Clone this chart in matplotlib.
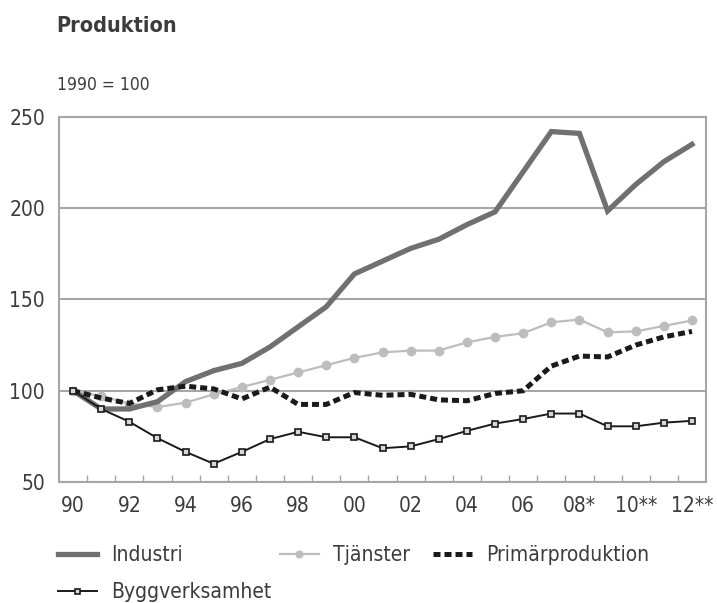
import numpy as np
import matplotlib
matplotlib.use("Agg")
import matplotlib.pyplot as plt
from matplotlib.lines import Line2D

plt.rcParams['font.family'] = ['DejaVu Sans']
plt.rcParams['font.stretch'] = 'condensed'

years = list(range(1990, 2013))
tick_labels = ["90", "92", "94", "96", "98", "00", "02", "04", "06", "08*", "10**", "12**"]

industri = [100, 90, 90, 94, 105, 111, 115, 124, 135, 146, 164, 171, 178, 183, 191, 198,
            220, 242, 241, 198.5, 213, 225.5, 235]
tjanster = [100, 97, 93, 91, 93.5, 98, 102, 106, 110, 114, 118, 121, 122, 122, 126.5, 129.5,
            131.5, 137.5, 139, 132, 132.5, 135.5, 138.5]
primar = [100, 96, 93, 100.5, 102.5, 101, 95.5, 102, 92.5, 92.5, 99, 97.5, 98, 95, 94.5, 98.5,
          100, 113.5, 119, 118.5, 125, 129.5, 132.5]
bygg = [100, 90, 83, 74, 66.5, 60, 66.5, 73.5, 77.5, 74.5, 74.5, 68.5, 69.5, 73.5, 78, 82,
        84.5, 87.5, 87.5, 80.5, 80.5, 82.5, 83.5]

text_col = '#3c3c3c'
grid_col = '#a6a6a6'


def plotter():
    fig = plt.figure(figsize=(7.17, 6.03), dpi=100)
    ax = fig.add_axes([0.0823, 0.2007, 0.9024, 0.6053])
    x = np.arange(len(years))

    l_ind, = ax.plot(x, industri, color='#707070', lw=3.8, solid_joinstyle='miter', zorder=4)
    l_tj, = ax.plot(x, tjanster, color='#bdbdbd', lw=1.6, marker='o', markersize=6,
                    markeredgecolor='#bdbdbd', zorder=3)
    l_pr, = ax.plot(x, primar, color='#1a1a1a', lw=3.6, dashes=(1.4, 0.8),
                    dash_capstyle='butt', zorder=5)
    l_by, = ax.plot(x, bygg, color='#1a1a1a', lw=1.4, marker='s', markersize=4.5,
                    markerfacecolor='#d8d8d8', markeredgecolor='#1a1a1a',
                    markeredgewidth=1.2, zorder=6)

    ax.set_xlim(-0.5, len(years) - 0.5)
    ax.set_ylim(50, 250)
    ax.set_yticks([50, 100, 150, 200, 250])
    ax.yaxis.grid(True, color=grid_col, lw=1.5)
    ax.set_axisbelow(True)
    for s in ax.spines.values():
        s.set_color(grid_col)
        s.set_linewidth(1.5)

    ax.set_xticks(np.arange(0.5, len(years) - 1, 1), minor=True)
    ax.set_xticks(x[::2])
    ax.set_xticklabels(tick_labels)
    ax.tick_params(axis='x', which='minor', direction='in', length=5, width=1, color=grid_col)
    ax.tick_params(axis='x', which='major', length=0, pad=10, labelsize=15, labelcolor=text_col)
    ax.tick_params(axis='y', length=0, pad=10, labelsize=15, labelcolor=text_col)

    fig.text(0.079, 0.957, "Produktion", fontsize=15.5, fontweight='bold', color=text_col,
             va='center', ha='left')
    fig.text(0.079, 0.859, "1990 = 100", fontsize=12.5, color=text_col, va='center', ha='left')

    entries = [
        (l_ind, "Industri", 58, 555),
        (l_tj, "Tjänster", 280, 555),
        (l_pr, "Primärproduktion", 433, 555),
        (l_by, "Byggverksamhet", 58, 592),
    ]
    for h, lab, px, py in entries:
        hl = Line2D([], [], color=h.get_color(), lw=h.get_linewidth(),
                    marker=h.get_marker(), markersize=h.get_markersize(),
                    markerfacecolor=h.get_markerfacecolor(),
                    markeredgecolor=h.get_markeredgecolor(),
                    markeredgewidth=h.get_markeredgewidth(),
                    linestyle=h.get_linestyle(), dash_capstyle='butt')
        if h is l_pr:
            hl.set_dashes((1.4, 0.8))
        leg = fig.legend(handles=[hl], labels=[lab], loc='center left',
                         bbox_to_anchor=(px / 717, 1 - py / 603), frameon=False,
                         fontsize=15, handlelength=1.85, handletextpad=0.7,
                         borderaxespad=0, borderpad=0, markerscale=0.8)
        for t in leg.get_texts():
            t.set_color(text_col)

    fig.savefig("out.png", dpi=100)


if __name__ == '__main__':
    plotter()
